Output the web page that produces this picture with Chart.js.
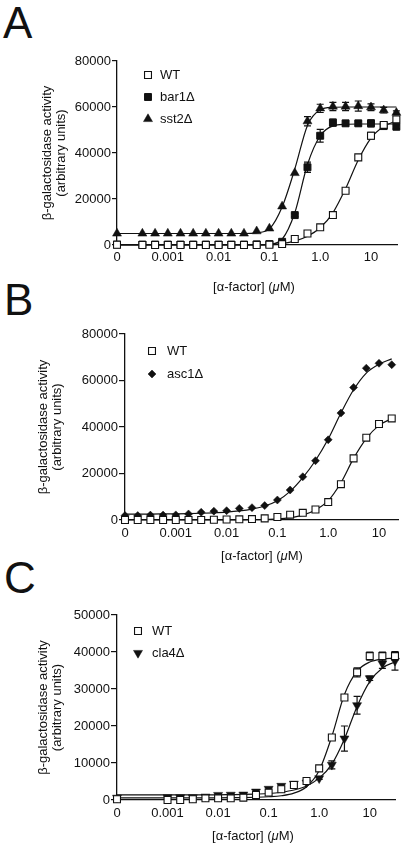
<!DOCTYPE html>
<html>
<head>
<meta charset="utf-8">
<script src="https://cdn.jsdelivr.net/npm/chart.js@4.4.1/dist/chart.umd.min.js"></script>
<style>
  body { margin:0; background:#fff; width:404px; height:846px; position:relative; overflow:hidden;
         font-family:'Liberation Sans', Arial, sans-serif; color:#111; }
  canvas { position:absolute; left:0; }
  .letter { position:absolute; font-size:44px; line-height:44px; }
  .xt { position:absolute; width:200px; text-align:center; font-size:13px; line-height:16px; }
</style>
</head>
<body>
<div class="letter" style="left:3px;top:1px">A</div>
<div class="letter" style="left:4px;top:278px">B</div>
<div class="letter" style="left:4px;top:556px">C</div>

<canvas id="cA" width="404" height="300" style="top:0"></canvas>
<canvas id="cB" width="404" height="270" style="top:300px"></canvas>
<canvas id="cC" width="404" height="276" style="top:570px"></canvas>

<div class="xt" style="left:154px;top:279px">[α-factor] (<i>μ</i>M)</div>
<div class="xt" style="left:162px;top:548px">[α-factor] (<i>μ</i>M)</div>
<div class="xt" style="left:153px;top:828px">[α-factor] (<i>μ</i>M)</div>

<script>
// x = 0 is drawn at the axis origin
var ZERO = 1e-4;
var xTicks = [1e-4, 0.001, 0.01, 0.1, 1, 10];

// panel A
var xA = [0, 0.000316, 0.000562, 0.001, 0.00178, 0.00316, 0.00562, 0.01, 0.0178, 0.0316, 0.0562, 0.1, 0.178, 0.316, 0.562, 1, 1.78, 3.16, 5.62, 10, 17.8, 31.6];
var wtA = [100, 0, 0, 0, 0, 0, 0, 0, 0, 0, 0, 100, 400, 2600, 5000, 7700, 13000, 23600, 38100, 47500, 52200, 54600];
var bar1A = [200, 200, 200, 200, 200, 200, 200, 200, 200, 200, 300, 400, 1400, 13000, 33800, 47500, 53200, 52900, 52900, 52900, 51700, 51400];
var sst2A = [5000, 5000, 5000, 5000, 5000, 5000, 5000, 5000, 5000, 5000, 6000, 7200, 16800, 31300, 53800, 59400, 60200, 60200, 60400, 59900, 58600, 57500];
var errWtA = [0, 0, 0, 0, 0, 0, 0, 0, 0, 0, 0, 0, 0, 0, 0, 0, 0, 600, 800, 1500, 800, 1200];
var errBar1A = [0, 0, 0, 0, 0, 0, 0, 0, 0, 0, 0, 0, 0, 600, 2200, 2800, 1500, 1000, 1000, 1500, 800, 800];
var errSst2A = [0, 0, 0, 0, 0, 0, 0, 0, 0, 0, 0, 0, 0, 0, 2000, 1800, 1800, 1800, 2200, 1500, 1200, 800];
var fitWtA = [0, 0, 0, 0, 0, 0, 0, 0, 0, 0, 0, 100, 600, 1700, 3800, 7500, 14000, 24500, 37000, 46500, 51500, 54000];
var fitBar1A = [0, 0, 0, 0, 0, 0, 0, 0, 0, 0, 0, 300, 2500, 14000, 35000, 47500, 51800, 52500, 52600, 52600, 52600, 52600];
var fitSst2A = [5000, 5000, 5000, 5000, 5000, 5000, 5000, 5000, 5000, 5000, 5300, 7000, 16500, 33000, 52000, 58800, 59900, 60000, 60000, 60000, 60000, 60000];

// panel B
var xB = [0, 0.000178, 0.000316, 0.000562, 0.001, 0.00178, 0.00316, 0.00562, 0.01, 0.0178, 0.0316, 0.0562, 0.1, 0.178, 0.316, 0.562, 1, 1.78, 3.16, 5.62, 10, 17.8];
var wtB = [0, 0, 0, 0, 0, 0, 0, 100, 200, 300, 400, 700, 1300, 2300, 3100, 4500, 7700, 15400, 26500, 35400, 41300, 43700];
var asc1B = [1900, 1900, 2100, 2100, 2200, 2600, 3300, 3800, 4000, 5000, 5300, 6200, 8600, 12900, 18600, 25500, 34500, 46000, 57000, 65300, 67400, 66800];
var fitWtB = [0, 0, 0, 0, 0, 0, 0, 0, 0, 50, 100, 200, 450, 1000, 2100, 4300, 8300, 16000, 26500, 35000, 40700, 43600];
var fitAsc1B = [2500, 2500, 2550, 2600, 2650, 2750, 2900, 3100, 3400, 3900, 4700, 6000, 8300, 12300, 18200, 25600, 34800, 46000, 56000, 63200, 67000, 69300];

// panel C
var xC = [0, 0.001, 0.00178, 0.00316, 0.00562, 0.01, 0.0178, 0.0316, 0.0562, 0.1, 0.178, 0.316, 0.562, 1, 1.78, 3.16, 5.62, 10, 17.8, 31.6];
var wtC = [200, 0, 0, 200, 450, 450, 450, 630, 1350, 2000, 2900, 4050, 5130, 8550, 16900, 27700, 34500, 38900, 38900, 38900];
var cla4C = [600, 700, 700, 700, 900, 1350, 1400, 1450, 2250, 3000, 3800, 4400, 4700, 5850, 9500, 16600, 25600, 32900, 36900, 37600];
var errWtC = [0, 0, 0, 0, 0, 0, 0, 0, 0, 0, 0, 0, 0, 300, 600, 800, 1200, 1100, 1100, 1100];
var errCla4C = [0, 0, 0, 0, 0, 0, 0, 0, 0, 0, 0, 0, 0, 300, 1100, 3400, 2400, 600, 1350, 2500];
var fitWtC = [600, 600, 600, 600, 600, 600, 620, 660, 740, 880, 1150, 1850, 3600, 8000, 17200, 28500, 34800, 37300, 38100, 38300];
var fitCla4C = [1400, 1400, 1400, 1400, 1400, 1400, 1450, 1500, 1600, 1750, 2100, 2700, 3800, 5900, 9700, 16500, 25300, 32000, 35700, 37300];

var INK = '#111';
Chart.defaults.font.family = "'Liberation Sans', Arial, sans-serif";
Chart.defaults.font.size = 13;
Chart.defaults.color = INK;

// marker looks
var openSq = { pointStyle: 'rect', r: 4.9, bg: '#fff', bw: 1.1, rot: 0 };
var fullSq = { pointStyle: 'rect', r: 4.9, bg: INK, bw: 1, rot: 0 };
var triUp = { pointStyle: 'triangle', r: 5.2, bg: INK, bw: 0.5, rot: 0 };
var triDown = { pointStyle: 'triangle', r: 5.2, bg: INK, bw: 0.5, rot: 180 };
var diamond = { pointStyle: 'rectRot', r: 4, bg: INK, bw: 0.5, rot: 0 };

function pts(xs, ys) {
  return xs.map(function(x, i) { return { x: x === 0 ? ZERO : x, y: ys[i] }; });
}

function marks(label, xs, ys, mk, errs) {
  return {
    label: label, data: pts(xs, ys), showLine: false, clip: false,
    pointStyle: mk.pointStyle, pointRadius: mk.r, pointRotation: mk.rot,
    pointBackgroundColor: mk.bg, pointBorderColor: INK, pointBorderWidth: mk.bw,
    errors: errs
  };
}

function fit(xs, ys) {
  return {
    data: pts(xs, ys), showLine: true, clip: false, pointRadius: 0,
    borderColor: INK, borderWidth: 1.2, cubicInterpolationMode: 'monotone'
  };
}

var errorBars = {
  id: 'errorBars',
  beforeDatasetsDraw: function(chart) {
    var ctx = chart.ctx, ys = chart.scales.y;
    chart.data.datasets.forEach(function(ds, i) {
      if (!ds.errors) return;
      chart.getDatasetMeta(i).data.forEach(function(p, j) {
        var e = ds.errors[j];
        if (!e) return;
        var v = ds.data[j].y;
        var t = ys.getPixelForValue(v + e), b = ys.getPixelForValue(v - e);
        ctx.save();
        ctx.strokeStyle = INK; ctx.lineWidth = 1.2;
        ctx.beginPath();
        ctx.moveTo(p.x, t); ctx.lineTo(p.x, b);
        ctx.moveTo(p.x - 3.5, t); ctx.lineTo(p.x + 3.5, t);
        ctx.moveTo(p.x - 3.5, b); ctx.lineTo(p.x + 3.5, b);
        ctx.stroke();
        ctx.restore();
      });
    });
  }
};

var inLegend = {
  id: 'inlegend',
  afterDraw: function(chart, args, opts) {
    var ctx = chart.ctx;
    opts.items.forEach(function(it, i) {
      var y = opts.y + i * opts.dy, mk = it.mk;
      ctx.save();
      ctx.fillStyle = mk.bg; ctx.strokeStyle = INK; ctx.lineWidth = mk.bw;
      Chart.helpers.drawPoint(ctx, { pointStyle: mk.pointStyle, rotation: mk.rot, radius: mk.r, borderWidth: mk.bw }, opts.x, y);
      ctx.fillStyle = INK;
      ctx.font = "13px 'Liberation Sans', Arial, sans-serif";
      ctx.textBaseline = 'middle';
      ctx.fillText(it.text, opts.x + opts.gap, y);
      ctx.restore();
    });
  }
};

function xLabel(v) {
  if (v <= ZERO * 1.01) return '0';
  if (v === 1) return '1.0';
  return String(v);
}

function panel(id, o) {
  return new Chart(document.getElementById(id), {
    type: 'scatter',
    data: { datasets: o.datasets },
    options: {
      responsive: false, animation: false,
      layout: { padding: { top: o.top, right: o.right, left: 0, bottom: 0 } },
      plugins: {
        legend: { display: false }, tooltip: { enabled: false },
        inlegend: o.legend
      },
      scales: {
        x: {
          type: 'logarithmic', min: ZERO, max: o.xMax, bounds: 'data',
          grid: { display: false, drawTicks: false },
          border: { display: true, color: INK, width: 1.3 },
          ticks: { padding: o.xPad, autoSkip: false, maxRotation: 0, callback: xLabel },
          afterBuildTicks: function(s) { s.ticks = xTicks.map(function(v) { return { value: v }; }); },
          afterFit: function(s) { s.height = o.xH; }
        },
        y: {
          min: 0, max: o.yMax,
          ticks: { stepSize: o.yStep, padding: 1, callback: function(v) { return String(v); } },
          grid: { display: true, drawOnChartArea: false, drawTicks: true, tickLength: o.tl, color: INK, lineWidth: 1.2 },
          border: { display: true, color: INK, width: 1.3 },
          title: { display: true, text: ['β-galactosidase activity', '(arbitrary units)'],
                   font: { size: 13, lineHeight: 1.05 }, padding: { top: o.tp, bottom: 0 } },
          afterFit: function(s) { s.width = o.yW; }
        }
      }
    },
    plugins: [errorBars, inLegend]
  });
}

panel('cA', {
  datasets: [
    marks('WT', xA, wtA, openSq, errWtA),
    marks('bar1Δ', xA, bar1A, fullSq, errBar1A),
    marks('sst2Δ', xA, sst2A, triUp, errSst2A),
    fit(xA, fitWtA), fit(xA, fitBar1A), fit(xA, fitSst2A)
  ],
  top: 61, right: 7, xMax: Math.pow(10, 1.512), xH: 55, xPad: 5,
  yMax: 80000, yStep: 20000, tl: 5, tp: 41, yW: 117,
  legend: { x: 148, y: 75, dy: 22, gap: 12,
            items: [{ text: 'WT', mk: openSq }, { text: 'bar1Δ', mk: fullSq }, { text: 'sst2Δ', mk: triUp }] }
});

panel('cB', {
  datasets: [
    marks('WT', xB, wtB, openSq, null),
    marks('asc1Δ', xB, asc1B, diamond, null),
    fit(xB, fitWtB), fit(xB, fitAsc1B)
  ],
  top: 34, right: 6, xMax: Math.pow(10, 1.374), xH: 50, xPad: 6,
  yMax: 80000, yStep: 20000, tl: 6, tp: 37, yW: 125,
  legend: { x: 152, y: 51, dy: 23, gap: 15,
            items: [{ text: 'WT', mk: openSq }, { text: 'asc1Δ', mk: diamond }] }
});

panel('cC', {
  datasets: [
    marks('WT', xC, wtC, openSq, errWtC),
    marks('cla4Δ', xC, cla4C, triDown, errCla4C),
    fit(xC, fitWtC), fit(xC, fitCla4C)
  ],
  top: 45, right: 9, xMax: Math.pow(10, 1.5), xH: 46, xPad: 6,
  yMax: 50000, yStep: 10000, tl: 6, tp: 37, yW: 117,
  legend: { x: 138, y: 61, dy: 22, gap: 14,
            items: [{ text: 'WT', mk: openSq }, { text: 'cla4Δ', mk: triDown }] }
});
</script>
</body>
</html>
